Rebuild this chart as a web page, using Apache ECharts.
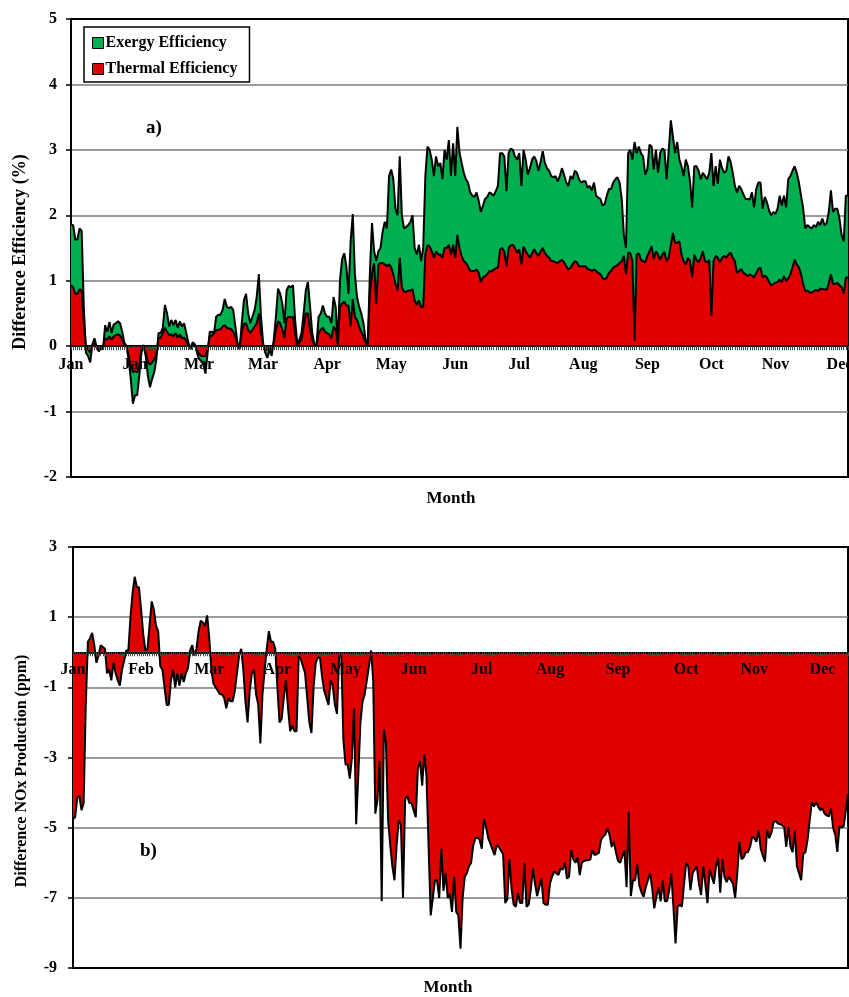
<!DOCTYPE html>
<html>
<head>
<meta charset="utf-8">
<script src="https://cdn.jsdelivr.net/npm/echarts@6/dist/echarts.min.js"></script>
<style>html,body{margin:0;padding:0;background:#fff}#c{width:849px;height:997px}</style>
</head>
<body>
<div id="c"></div>
<script>
// Daily difference in exergy efficiency (%)
const exergyEff = [
1.86,1.85,1.63,1.63,1.80,1.76,0.60,-0.10,-0.15,-0.25,
0.02,0.12,-0.02,-0.08,-0.03,-0.05,0.32,0.22,0.37,0.20,
0.33,0.35,0.38,0.35,0.22,0.05,0.00,-0.20,-0.50,-0.88,
-0.75,-0.75,-0.45,-0.10,0.02,-0.15,-0.45,-0.63,-0.50,-0.40,
-0.20,0.20,0.20,0.28,0.63,0.50,0.30,0.40,0.32,0.40,
0.28,0.38,0.30,0.35,0.20,0.05,-0.05,0.06,0.03,-0.10,
-0.20,-0.22,-0.28,-0.42,-0.10,0.22,0.22,0.20,0.45,0.48,
0.48,0.55,0.72,0.60,0.58,0.60,0.55,0.30,0.05,-0.05,
0.35,0.70,0.80,0.50,0.35,0.45,0.55,0.75,1.10,0.45,
0.05,-0.10,-0.18,-0.05,-0.15,0.10,0.45,0.88,0.80,0.65,
0.35,0.85,0.92,0.90,0.93,0.40,0.03,0.10,0.20,0.50,
0.85,0.98,0.60,0.20,0.03,0.02,0.45,0.50,0.62,0.50,
0.45,0.45,0.35,0.75,0.60,0.03,1.00,1.33,1.42,1.22,
0.80,1.60,2.02,1.10,0.75,0.60,0.50,0.35,0.10,0.00,
1.10,1.88,1.45,1.30,1.45,1.50,1.75,1.90,1.80,2.60,
2.70,2.55,2.10,2.00,2.90,2.00,1.80,1.82,1.85,1.90,
2.00,1.50,1.40,1.55,1.30,1.50,2.60,3.05,3.00,2.85,
2.60,2.90,2.75,2.80,2.55,3.00,2.85,3.15,2.60,3.10,
2.60,3.35,2.96,2.80,2.65,2.55,2.50,2.35,2.30,2.28,
2.35,2.22,2.05,2.15,2.25,2.28,2.35,2.33,2.30,2.37,
2.45,2.95,2.95,2.90,2.37,2.95,3.02,3.00,2.90,2.85,
2.95,2.45,3.00,2.85,2.62,2.72,2.85,2.90,2.83,2.68,
2.82,2.98,2.80,2.72,2.68,2.60,2.58,2.60,2.52,2.60,
2.72,2.62,2.50,2.45,2.60,2.55,2.68,2.65,2.55,2.50,
2.52,2.52,2.42,2.45,2.38,2.50,2.30,2.27,2.25,2.15,
2.17,2.30,2.40,2.40,2.50,2.55,2.58,2.50,2.25,1.70,
1.50,2.95,3.00,2.85,3.12,2.95,3.05,2.95,2.90,2.62,
2.70,3.08,3.05,2.70,3.00,2.65,2.95,3.02,3.00,2.55,
2.98,3.45,3.20,2.95,3.12,2.85,2.75,2.60,2.85,2.75,
2.52,2.12,2.75,2.75,2.68,2.55,2.65,2.60,2.55,2.65,
2.95,2.45,2.75,2.48,2.85,2.72,2.65,2.68,2.90,2.82,
2.65,2.45,2.35,2.45,2.40,2.32,2.25,2.25,2.24,2.35,
2.12,2.40,2.50,2.50,2.10,2.28,2.20,2.08,2.00,2.05,
2.02,2.10,2.30,2.15,2.30,2.12,2.55,2.60,2.68,2.75,
2.65,2.50,2.30,2.10,1.80,1.85,1.82,1.80,1.85,1.82,
1.90,1.85,1.95,1.85,1.88,2.05,2.38,2.05,2.10,2.10,
1.95,1.70,1.60,2.30,2.30
];

// Daily difference in thermal efficiency (%)
const thermalEff = [
0.93,0.90,0.80,0.80,0.87,0.85,0.35,0.00,-0.05,-0.10,
0.00,0.06,-0.02,-0.05,-0.02,-0.02,0.12,0.10,0.15,0.10,
0.15,0.17,0.18,0.16,0.10,0.03,0.00,-0.15,-0.30,-0.40,
-0.38,-0.40,-0.30,-0.05,0.00,-0.10,-0.25,-0.28,-0.25,-0.20,
-0.12,0.12,0.13,0.20,0.28,0.22,0.17,0.18,0.15,0.20,
0.13,0.18,0.12,0.13,0.08,0.02,-0.02,0.04,0.02,-0.06,
-0.12,-0.15,-0.15,-0.15,-0.05,0.15,0.16,0.20,0.24,0.25,
0.26,0.30,0.32,0.28,0.27,0.26,0.22,0.15,0.03,-0.03,
0.22,0.34,0.35,0.25,0.20,0.25,0.30,0.35,0.50,0.20,
0.02,-0.05,-0.05,-0.03,-0.05,0.05,0.25,0.38,0.35,0.25,
0.13,0.42,0.45,0.44,0.45,0.20,0.02,0.05,0.10,0.30,
0.50,0.50,0.25,0.10,0.02,0.01,0.20,0.25,0.28,0.22,
0.20,0.18,0.12,0.30,0.25,0.02,0.60,0.65,0.68,0.62,
0.62,0.30,0.72,0.45,0.40,0.30,0.22,0.15,0.05,0.00,
0.80,1.10,1.27,0.65,1.25,1.27,1.27,1.25,1.22,1.25,
1.20,1.10,0.95,0.85,1.35,0.90,0.83,0.83,0.85,0.85,
0.87,0.70,0.63,0.70,0.60,0.60,1.40,1.55,1.52,1.45,
1.35,1.45,1.40,1.40,1.35,1.50,1.50,1.55,1.40,1.55,
1.35,1.70,1.50,1.38,1.30,1.27,1.22,1.15,1.15,1.15,
1.17,1.12,0.98,1.05,1.07,1.10,1.15,1.14,1.17,1.19,
1.20,1.48,1.50,1.45,1.22,1.50,1.54,1.55,1.50,1.43,
1.48,1.25,1.52,1.45,1.40,1.35,1.42,1.48,1.42,1.38,
1.45,1.50,1.42,1.38,1.35,1.30,1.30,1.28,1.27,1.30,
1.32,1.28,1.22,1.17,1.20,1.25,1.30,1.28,1.22,1.22,
1.22,1.22,1.18,1.17,1.15,1.17,1.15,1.12,1.10,1.04,
1.02,1.05,1.12,1.15,1.20,1.22,1.24,1.27,1.30,1.38,
1.10,1.43,1.42,1.30,0.08,1.40,1.42,1.32,1.30,1.28,
1.38,1.45,1.53,1.33,1.45,1.40,1.32,1.40,1.44,1.30,
1.35,1.55,1.73,1.58,1.58,1.60,1.40,1.30,1.25,1.35,
1.30,1.05,1.40,1.32,1.28,1.35,1.45,1.30,1.28,1.32,
0.46,1.30,1.38,1.35,1.28,1.35,1.38,1.35,1.40,1.43,
1.35,1.30,1.12,1.15,1.18,1.12,1.10,1.07,1.10,1.08,
1.05,1.12,1.18,1.20,1.05,1.08,1.05,0.98,0.93,0.95,
0.97,0.98,1.02,0.98,1.07,1.00,1.03,1.10,1.20,1.32,
1.25,1.20,1.10,0.95,0.84,0.85,0.82,0.82,0.84,0.86,
0.84,0.88,0.87,0.87,0.86,0.96,1.10,0.95,0.95,0.97,
0.93,0.90,0.80,1.05,1.05
];

// Daily difference in NOx production (ppm)
const noxDiff = [
-4.75,-4.70,-4.15,-4.10,-4.50,-4.30,-1.50,0.30,0.40,0.55,
0.20,-0.30,-0.10,0.20,0.15,0.10,-0.60,-0.50,-0.80,-0.30,
-0.60,-0.80,-0.95,-0.50,-0.25,0.05,0.05,1.00,1.70,2.15,
1.85,1.85,1.20,0.50,0.05,0.10,0.80,1.45,1.20,0.75,
0.60,-0.40,-0.50,-1.00,-1.50,-1.50,-0.80,-0.50,-1.00,-0.60,
-0.95,-0.60,-0.85,-0.60,-0.45,0.05,0.20,-0.10,0.10,0.60,
0.90,0.85,0.75,1.05,0.40,-0.50,-0.90,-1.00,-1.10,-1.20,
-1.20,-1.30,-1.60,-1.30,-1.40,-1.40,-1.10,-0.60,-0.10,0.10,
-0.50,-1.40,-2.00,-1.10,-0.60,-0.50,-1.20,-1.50,-2.60,-1.20,
-0.50,0.10,0.60,0.30,0.30,0.10,-1.00,-2.00,-1.90,-1.30,
-0.80,-1.60,-2.25,-2.10,-2.25,-2.25,-0.10,-0.20,-0.40,-0.60,
-1.30,-2.00,-2.30,-1.00,-0.30,-0.15,-0.15,-0.70,-1.10,-1.30,
-1.50,-0.80,-0.95,-1.50,-1.75,-0.10,-0.05,-2.50,-3.20,-3.20,
-3.60,-3.00,-1.60,-4.90,-3.50,-2.00,-1.40,-1.20,-0.80,-0.40,
0.05,-0.80,-4.60,-4.20,-3.10,-7.10,-2.20,-2.60,-4.80,-5.50,
-6.10,-6.50,-5.50,-4.80,-4.90,-7.00,-4.20,-4.10,-4.30,-4.30,
-4.50,-4.70,-3.30,-3.10,-3.80,-2.90,-3.50,-5.50,-7.50,-7.00,
-6.50,-6.50,-7.00,-5.60,-6.80,-6.30,-7.00,-6.90,-7.40,-6.40,
-7.40,-7.50,-8.45,-7.00,-6.40,-6.30,-6.10,-6.00,-5.50,-5.30,
-5.28,-5.35,-5.60,-4.75,-4.97,-5.30,-5.45,-5.62,-5.78,-5.50,
-5.55,-5.65,-5.75,-7.15,-7.05,-5.90,-6.75,-7.20,-7.25,-6.87,
-7.15,-7.15,-6.00,-7.25,-7.20,-6.78,-6.16,-6.60,-6.95,-6.70,
-6.45,-7.15,-7.20,-7.20,-6.60,-6.40,-6.25,-6.30,-6.35,-6.16,
-6.20,-6.00,-6.45,-6.40,-5.64,-5.90,-6.00,-5.85,-6.35,-6.00,
-5.95,-5.93,-5.93,-5.90,-5.64,-5.78,-5.75,-5.72,-5.35,-5.25,
-5.20,-5.02,-5.20,-5.55,-5.40,-5.70,-5.95,-6.00,-5.82,-5.65,
-6.70,-4.55,-6.95,-6.50,-6.50,-6.05,-6.65,-6.85,-6.97,-6.70,
-6.50,-6.30,-6.70,-7.30,-6.97,-6.70,-7.10,-6.50,-7.10,-7.10,
-6.80,-6.30,-7.25,-8.30,-7.25,-7.20,-7.25,-6.60,-6.00,-6.10,
-6.78,-6.30,-6.20,-6.10,-6.60,-6.92,-6.10,-6.60,-7.15,-6.20,
-6.40,-6.60,-6.10,-5.88,-6.85,-5.90,-6.40,-6.55,-6.40,-6.50,
-6.60,-7.00,-6.30,-5.40,-5.90,-5.85,-5.70,-5.70,-5.55,-5.26,
-5.30,-5.40,-5.07,-5.60,-5.80,-5.97,-5.07,-5.30,-5.15,-4.85,
-4.80,-4.88,-4.90,-4.93,-4.98,-5.55,-4.98,-5.55,-5.70,-5.07,
-6.10,-6.30,-6.50,-5.75,-5.70,-5.35,-4.80,-4.27,-4.40,-4.27,
-4.40,-4.50,-4.45,-4.60,-4.65,-4.68,-4.45,-5.00,-5.20,-5.69,
-4.95,-5.00,-4.95,-4.50,-4.05
];

// Month tick labels shown along each x axis
const topMonthLabels = ['Jan','Jan','Mar','Mar','Apr','May','Jun','Jul','Aug','Sep','Oct','Nov','Dec'];
const bottomMonthLabels = ['Jan','Feb','Mar','Apr','May','Jun','Jul','Aug','Sep','Oct','Nov','Dec'];
const topLabelStep = 30;
const bottomLabelStep = 32;
const noxTicks = [-9, -7, -5, -3, -1, 1, 3];
const seriesNames = ['Exergy Efficiency', 'Thermal Efficiency', 'NOx'];

const days = exergyEff.map((_, i) => 'Day ' + (i + 1));

const FONT = 'Liberation Serif, Times New Roman, serif';
const GREEN = '#00B050';
const RED = '#E00000';
const GRIDGRAY = '#7a7a7a';

const chart = echarts.init(document.getElementById('c'), null, { renderer: 'canvas' });

// axis drawn on the zero line: line + daily ticks
function xLineAxis(gridIndex) {
  return {
    type: 'category', gridIndex, data: days, boundaryGap: false, z: 10,
    axisLine: { onZero: true, lineStyle: { color: '#000', width: 2 } },
    axisTick: { show: true, interval: 0, length: 4, lineStyle: { color: '#444', width: 1 } },
    axisLabel: { show: false },
    splitLine: { show: false }
  };
}
// label-only axis shifted up onto the zero line
function xLabelAxis(gridIndex, labels, step, offset, margin) {
  return {
    type: 'category', gridIndex, data: days, boundaryGap: false, z: 11,
    position: 'bottom', offset,
    axisLine: { show: false, onZero: false },
    axisTick: { show: false },
    axisLabel: {
      interval: step - 1, margin,
      formatter: (v, i) => labels[Math.round(i / step)] || '',
      fontFamily: FONT, fontWeight: 'bold', fontSize: 16, color: '#000'
    },
    splitLine: { show: false }
  };
}

const option = {
  animation: false,
  backgroundColor: '#fff',
  grid: [
    { left: 71, right: 1, top: 19, height: 458, show: true, borderColor: '#000', borderWidth: 2, backgroundColor: 'transparent', outerBoundsMode: 'none', containLabel: false },
    { left: 73, right: 1, top: 547, height: 421, show: true, borderColor: '#000', borderWidth: 2, backgroundColor: 'transparent', outerBoundsMode: 'none', containLabel: false }
  ],
  legend: {
    data: [seriesNames[0], seriesNames[1]],
    left: 84, top: 27, orient: 'vertical',
    icon: 'rect', itemWidth: 11, itemHeight: 11, itemGap: 10,
    backgroundColor: '#fff', borderColor: '#000', borderWidth: 1.5,
    padding: [8, 12, 5, 8],
    itemStyle: { borderColor: '#000', borderWidth: 1 },
    textStyle: { fontFamily: FONT, fontWeight: 'bold', fontSize: 16, color: '#000', padding: [0, 0, 0, -3] }
  },
  xAxis: [
    xLineAxis(0),
    xLineAxis(1),
    xLabelAxis(0, topMonthLabels, topLabelStep, -131, 11),
    xLabelAxis(1, bottomMonthLabels, bottomLabelStep, -316, 10)
  ],
  yAxis: [
    {
      type: 'value', gridIndex: 0, min: -2, max: 5, interval: 1,
      axisLine: { show: true, lineStyle: { color: '#000', width: 2 } },
      axisTick: { show: true, length: 5, lineStyle: { color: '#000', width: 1.5 } },
      axisLabel: { margin: 14, fontFamily: FONT, fontWeight: 'bold', fontSize: 16, color: '#000' },
      splitLine: { show: true, lineStyle: { width: 1.5, color: ['#000', GRIDGRAY, '#000', GRIDGRAY, GRIDGRAY, GRIDGRAY, GRIDGRAY, '#000'] } }
    },
    {
      type: 'value', gridIndex: 1, min: -9, max: 3,
      axisLine: { show: true, lineStyle: { color: '#000', width: 2 } },
      axisTick: { show: true, length: 5, customValues: noxTicks, lineStyle: { color: '#000', width: 1.5 } },
      axisLabel: { margin: 16, customValues: noxTicks, fontFamily: FONT, fontWeight: 'bold', fontSize: 16, color: '#000' },
      splitLine: { show: true, lineStyle: { width: 1.5, color: ['#000', GRIDGRAY, GRIDGRAY, GRIDGRAY, GRIDGRAY, GRIDGRAY, '#000'] } }
    }
  ],
  series: [
    {
      name: seriesNames[0], type: 'line', xAxisIndex: 0, yAxisIndex: 0, data: exergyEff,
      symbol: 'none', silent: true, z: 2,
      itemStyle: { color: GREEN, borderColor: '#000' },
      lineStyle: { color: '#000', width: 2 },
      areaStyle: { color: GREEN, opacity: 1, origin: 'auto' }
    },
    {
      name: seriesNames[1], type: 'line', xAxisIndex: 0, yAxisIndex: 0, data: thermalEff,
      symbol: 'none', silent: true, z: 3,
      itemStyle: { color: RED, borderColor: '#000' },
      lineStyle: { color: '#000', width: 2 },
      areaStyle: { color: RED, opacity: 1, origin: 'auto' }
    },
    {
      name: seriesNames[2], type: 'line', xAxisIndex: 1, yAxisIndex: 1, data: noxDiff,
      symbol: 'none', silent: true, z: 2,
      itemStyle: { color: RED },
      lineStyle: { color: '#000', width: 2 },
      areaStyle: { color: RED, opacity: 1, origin: 'auto' }
    }
  ],
  graphic: [
    { type: 'text', left: 146, top: 119, style: { text: 'a)', fontFamily: FONT, fontWeight: 'bold', fontSize: 19, fill: '#000' } },
    { type: 'text', left: 140, top: 842, style: { text: 'b)', fontFamily: FONT, fontWeight: 'bold', fontSize: 19, fill: '#000' } },
    { type: 'text', x: 451, y: 499, style: { text: 'Month', fontFamily: FONT, fontWeight: 'bold', fontSize: 17, fill: '#000', align: 'center', verticalAlign: 'middle' } },
    { type: 'text', x: 448, y: 988, style: { text: 'Month', fontFamily: FONT, fontWeight: 'bold', fontSize: 17, fill: '#000', align: 'center', verticalAlign: 'middle' } },
    { type: 'text', x: 20, y: 252, rotation: Math.PI / 2, style: { text: 'Difference Efficiency (%)', fontFamily: FONT, fontWeight: 'bold', fontSize: 18, fill: '#000', align: 'center', verticalAlign: 'middle' } },
    { type: 'text', x: 22, y: 771, rotation: Math.PI / 2, style: { text: 'Difference NOx Production (ppm)', fontFamily: FONT, fontWeight: 'bold', fontSize: 16, fill: '#000', align: 'center', verticalAlign: 'middle' } }
  ]
};

chart.setOption(option);
</script>
</body>
</html>
